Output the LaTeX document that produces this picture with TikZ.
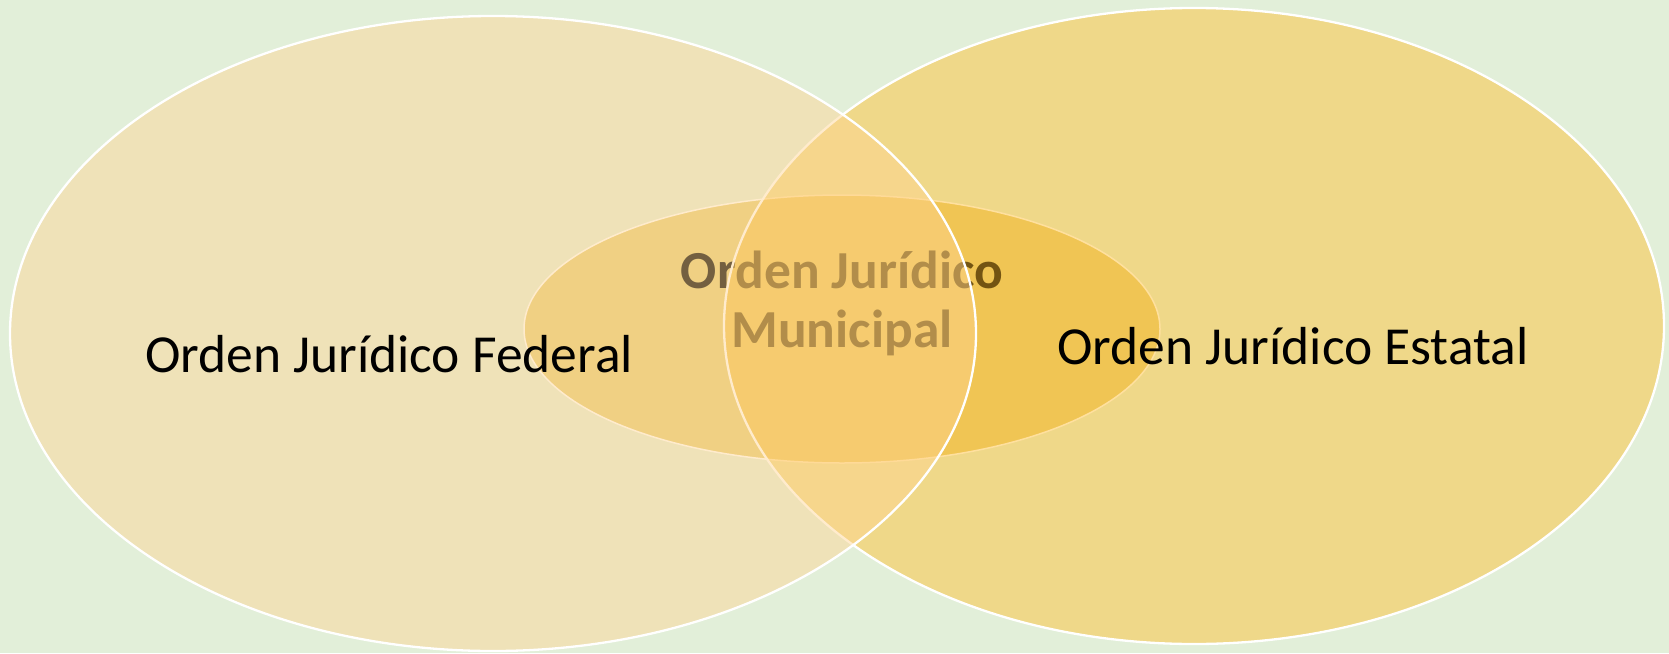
\documentclass[tikz,border=0pt]{standalone}
\usepackage{fontspec}
\setmainfont{Carlito}
\usetikzlibrary{shapes.geometric}
\definecolor{bg}{RGB}{226,239,217}
\definecolor{leftfill}{RGB}{255,212,144}
\definecolor{rightfill}{RGB}{255,188,41}
\definecolor{midfill}{RGB}{228,206,121}
\tikzset{
  venn/.style={ellipse, draw=white, line width=2.3pt, inner sep=0pt},
  label/.style={anchor=base, inner sep=0pt, text=black, font=\fontsize{53.5}{61}\selectfont},
  munlabel/.style={label, font=\bfseries\fontsize{53.5}{61}\selectfont}
}
\begin{document}
\begin{tikzpicture}[x=1pt,y=-1pt]
\fill[bg] (0,0) rectangle (1669,653);
\useasboundingbox (0,0) rectangle (1669,653);
% middle ellipse
\node[venn, fill=midfill, line width=1.5pt, minimum width=636pt, minimum height=268pt] (municipal) at (842,329) {};
\node[munlabel] (mun1) at (842,288) {Orden Jurídico};
\node[munlabel] (mun2) at (842,347) {Municipal};
% right ellipse
\node[venn, fill=rightfill, fill opacity=0.45, minimum width=940pt, minimum height=636pt] (estatal) at (1194,326) {};
% left ellipse
\node[venn, fill=leftfill, fill opacity=0.45, minimum width=966pt, minimum height=635pt] (federal) at (493,333.5) {};
\node[label] (fedtext) at (389,372) {Orden Jurídico Federal};
\node[label] (esttext) at (1293,364) {Orden Jurídico Estatal};
\end{tikzpicture}
\end{document}
